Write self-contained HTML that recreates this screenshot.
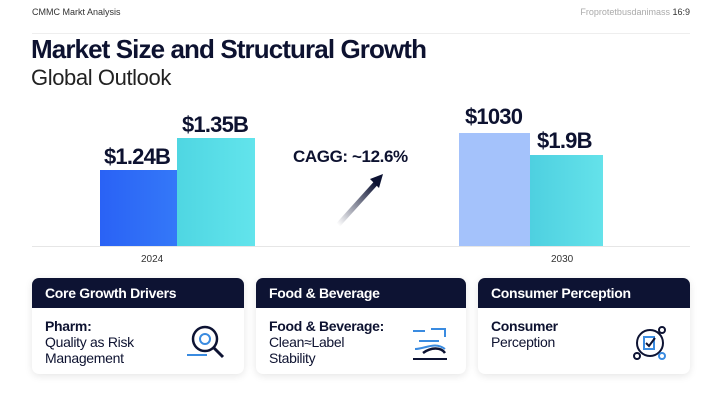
<!DOCTYPE html>
<html><head><meta charset="utf-8"><style>
body{margin:0;width:720px;height:405px;background:#fff;font-family:"Liberation Sans",sans-serif;position:relative;overflow:hidden;color:#0d1230}
.a{position:absolute;white-space:nowrap}
.bar{position:absolute}
.v{position:absolute;font-weight:bold;font-size:22px;letter-spacing:-0.8px;color:#0d1230}
.card{position:absolute;top:278px;height:96px;background:#fff;border-radius:7px;box-shadow:0 2px 8px rgba(0,0,0,0.10);overflow:hidden}
.hd{background:#0d1333;color:#fff;font-weight:bold;font-size:14px;height:30px;line-height:31px;padding-left:13px;letter-spacing:-0.3px}
.bd{position:absolute;left:13px;top:40px;font-size:14px;line-height:16px;letter-spacing:-0.3px}
</style></head><body>
<div class="a" style="left:32px;top:7px;font-size:9px;color:#333">CMMC Markt Analysis</div>
<div class="a" style="right:30px;top:7px;font-size:9px;color:#aaa">Froprotetbusdanimass <span style="color:#333">16:9</span></div>
<div class="a" style="left:32px;top:33px;width:658px;border-top:1px solid #eee"></div>
<div class="a" style="left:31px;top:34px;font-size:26px;font-weight:bold;letter-spacing:-0.9px">Market Size and Structural Growth</div>
<div class="a" style="left:31px;top:65px;font-size:22px;color:#222;letter-spacing:-0.4px">Global Outlook</div>
<div class="a" style="left:32px;top:246px;width:658px;border-top:1px solid #e6e6e6"></div>
<div class="bar" style="left:100px;top:170px;width:77px;height:76px;background:linear-gradient(90deg,#2a62f5,#3478f8)"></div>
<div class="bar" style="left:177px;top:138px;width:78px;height:108px;background:linear-gradient(90deg,#4fd6e2,#62e4ec)"></div>
<div class="bar" style="left:459px;top:133px;width:71px;height:113px;background:#a4c2fb"></div>
<div class="bar" style="left:530px;top:155px;width:73px;height:91px;background:linear-gradient(90deg,#4ed0e0,#64e2ea)"></div>
<div class="v" style="left:104px;top:144px">$1.24B</div>
<div class="v" style="left:182px;top:112px">$1.35B</div>
<div class="v" style="left:465px;top:104px">$1030</div>
<div class="v" style="left:537px;top:128px">$1.9B</div>
<div class="a" style="left:293px;top:147px;font-size:17px;font-weight:bold;letter-spacing:-0.4px">CAGG: ~12.6%</div>
<svg class="a" style="left:330px;top:165px" width="70" height="70"><defs><linearGradient id="g" x1="0" y1="1" x2="1" y2="0"><stop offset="0" stop-color="#0d1333" stop-opacity="0"/><stop offset="1" stop-color="#0d1333"/></linearGradient></defs><line x1="8" y1="60" x2="46" y2="18" stroke="url(#g)" stroke-width="5"/><polygon points="53,9 40,14 49,23" fill="#0d1333"/></svg>
<div class="a" style="left:141px;top:254px;font-size:10px;color:#333">2024</div>
<div class="a" style="left:551px;top:254px;font-size:10px;color:#333">2030</div>
<div class="card" style="left:32px;width:212px"><div class="hd">Core Growth Drivers</div><div class="bd"><b>Pharm:</b><br>Quality as Risk<br>Management</div>
<svg class="a" style="left:153px;top:45px" width="45" height="40"><circle cx="20" cy="16" r="12" fill="none" stroke="#0d1333" stroke-width="2.5"/><line x1="29" y1="25" x2="38" y2="34" stroke="#0d1333" stroke-width="3"/><circle cx="20" cy="16" r="5" fill="none" stroke="#3a8be0" stroke-width="2"/><line x1="2" y1="32" x2="22" y2="32" stroke="#3a8be0" stroke-width="2"/></svg></div>
<div class="card" style="left:256px;width:210px"><div class="hd">Food &amp; Beverage</div><div class="bd"><b>Food &amp; Beverage:</b><br>Clean≈Label<br>Stability</div>
<svg class="a" style="left:153px;top:45px" width="45" height="40"><path d="M4 8h12M22 6h14v8M10 18h20M6 26c10 0 20-8 30 0" fill="none" stroke="#3a8be0" stroke-width="2"/><path d="M14 30c8-6 18-6 22 0" fill="none" stroke="#0d1333" stroke-width="2.5"/><line x1="4" y1="36" x2="38" y2="36" stroke="#0d1333" stroke-width="2"/></svg></div>
<div class="card" style="left:478px;width:212px"><div class="hd">Consumer Perception</div><div class="bd"><b>Consumer</b><br>Perception</div>
<svg class="a" style="left:152px;top:45px" width="45" height="40"><circle cx="20" cy="20" r="13" fill="none" stroke="#0d1333" stroke-width="2"/><circle cx="32" cy="7" r="3" fill="#fff" stroke="#0d1333" stroke-width="2"/><circle cx="7" cy="33" r="3" fill="#fff" stroke="#0d1333" stroke-width="2"/><circle cx="32" cy="33" r="3" fill="#fff" stroke="#3a8be0" stroke-width="2"/><path d="M14 14h10v12h-10z" fill="none" stroke="#3a8be0" stroke-width="2"/><path d="M16 20l3 3 6-8" fill="none" stroke="#0d1333" stroke-width="2"/></svg></div>
</body></html>
